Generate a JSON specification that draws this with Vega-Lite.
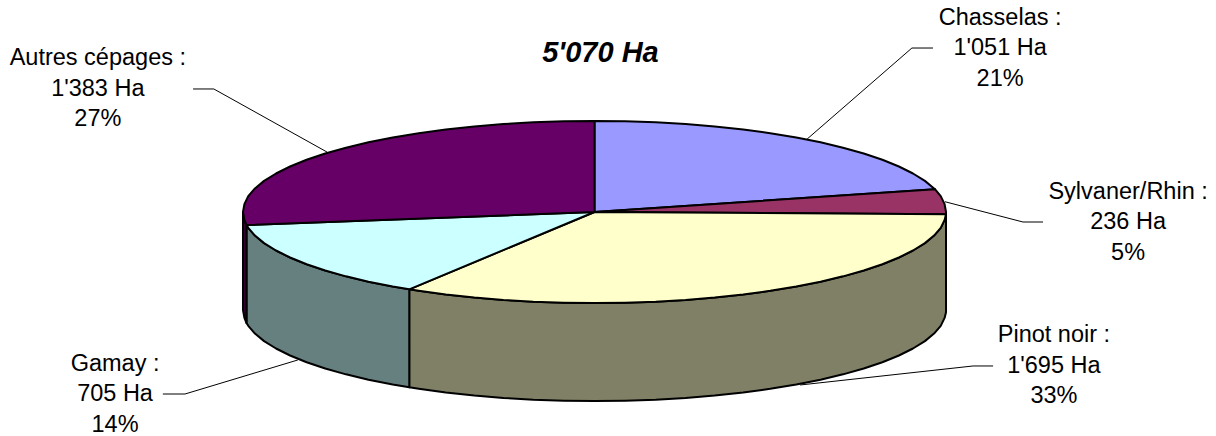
{
"$schema":"https://vega.github.io/schema/vega-lite/v6.json",
"width":1216,"height":436,"padding":0,
"autosize":{"type":"none"},
"background":"white",
"config":{"view":{"stroke":null}},
"datasets":{
"faces":[
{"f":"Pinot side","x":1,"y":-0.024},{"f":"Pinot side","x":0.996,"y":-0.087},{"f":"Pinot side","x":0.985,"y":-0.174},{"f":"Pinot side","x":0.966,"y":-0.259},{"f":"Pinot side","x":0.94,"y":-0.342},{"f":"Pinot side","x":0.906,"y":-0.423},{"f":"Pinot side","x":0.866,"y":-0.5},{"f":"Pinot side","x":0.819,"y":-0.574},{"f":"Pinot side","x":0.766,"y":-0.643},{"f":"Pinot side","x":0.707,"y":-0.707},{"f":"Pinot side","x":0.643,"y":-0.766},{"f":"Pinot side","x":0.574,"y":-0.819},{"f":"Pinot side","x":0.5,"y":-0.866},{"f":"Pinot side","x":0.423,"y":-0.906},{"f":"Pinot side","x":0.342,"y":-0.94},{"f":"Pinot side","x":0.259,"y":-0.966},{"f":"Pinot side","x":0.174,"y":-0.985},{"f":"Pinot side","x":0.087,"y":-0.996},{"f":"Pinot side","x":0,"y":-1},{"f":"Pinot side","x":-0.087,"y":-0.996},{"f":"Pinot side","x":-0.174,"y":-0.985},{"f":"Pinot side","x":-0.259,"y":-0.966},{"f":"Pinot side","x":-0.342,"y":-0.94},{"f":"Pinot side","x":-0.423,"y":-0.906},{"f":"Pinot side","x":-0.5,"y":-0.866},{"f":"Pinot side","x":-0.527,"y":-0.85},
{"f":"Pinot side","x":-0.527,"y":-1.927},{"f":"Pinot side","x":-0.5,"y":-1.943},{"f":"Pinot side","x":-0.423,"y":-1.983},{"f":"Pinot side","x":-0.342,"y":-2.017},{"f":"Pinot side","x":-0.259,"y":-2.043},{"f":"Pinot side","x":-0.174,"y":-2.062},{"f":"Pinot side","x":-0.087,"y":-2.073},{"f":"Pinot side","x":0,"y":-2.077},{"f":"Pinot side","x":0.087,"y":-2.073},{"f":"Pinot side","x":0.174,"y":-2.062},{"f":"Pinot side","x":0.259,"y":-2.043},{"f":"Pinot side","x":0.342,"y":-2.017},{"f":"Pinot side","x":0.423,"y":-1.983},{"f":"Pinot side","x":0.5,"y":-1.943},{"f":"Pinot side","x":0.574,"y":-1.896},{"f":"Pinot side","x":0.643,"y":-1.843},{"f":"Pinot side","x":0.707,"y":-1.784},{"f":"Pinot side","x":0.766,"y":-1.72},{"f":"Pinot side","x":0.819,"y":-1.651},{"f":"Pinot side","x":0.866,"y":-1.577},{"f":"Pinot side","x":0.906,"y":-1.5},{"f":"Pinot side","x":0.94,"y":-1.419},{"f":"Pinot side","x":0.966,"y":-1.336},{"f":"Pinot side","x":0.985,"y":-1.251},{"f":"Pinot side","x":0.996,"y":-1.164},{"f":"Pinot side","x":1,"y":-1.101},{"f":"Pinot side","x":1,"y":-0.024},

{"f":"Gamay side","x":-0.527,"y":-0.85},{"f":"Gamay side","x":-0.574,"y":-0.819},{"f":"Gamay side","x":-0.643,"y":-0.766},{"f":"Gamay side","x":-0.707,"y":-0.707},{"f":"Gamay side","x":-0.766,"y":-0.643},{"f":"Gamay side","x":-0.819,"y":-0.574},{"f":"Gamay side","x":-0.866,"y":-0.5},{"f":"Gamay side","x":-0.906,"y":-0.423},{"f":"Gamay side","x":-0.94,"y":-0.342},{"f":"Gamay side","x":-0.966,"y":-0.259},{"f":"Gamay side","x":-0.985,"y":-0.174},{"f":"Gamay side","x":-0.99,"y":-0.143},
{"f":"Gamay side","x":-0.99,"y":-1.22},{"f":"Gamay side","x":-0.985,"y":-1.251},{"f":"Gamay side","x":-0.966,"y":-1.336},{"f":"Gamay side","x":-0.94,"y":-1.419},{"f":"Gamay side","x":-0.906,"y":-1.5},{"f":"Gamay side","x":-0.866,"y":-1.577},{"f":"Gamay side","x":-0.819,"y":-1.651},{"f":"Gamay side","x":-0.766,"y":-1.72},{"f":"Gamay side","x":-0.707,"y":-1.784},{"f":"Gamay side","x":-0.643,"y":-1.843},{"f":"Gamay side","x":-0.574,"y":-1.896},{"f":"Gamay side","x":-0.527,"y":-1.927},{"f":"Gamay side","x":-0.527,"y":-0.85},

{"f":"Autres side","x":-0.99,"y":-0.143},{"f":"Autres side","x":-0.996,"y":-0.087},{"f":"Autres side","x":-1,"y":0},{"f":"Autres side","x":-1,"y":-1.077},{"f":"Autres side","x":-0.996,"y":-1.164},{"f":"Autres side","x":-0.99,"y":-1.22},{"f":"Autres side","x":-0.99,"y":-0.143},

{"f":"Chasselas","x":0,"y":0},{"f":"Chasselas","x":0,"y":1},{"f":"Chasselas","x":0.087,"y":0.996},{"f":"Chasselas","x":0.174,"y":0.985},{"f":"Chasselas","x":0.259,"y":0.966},{"f":"Chasselas","x":0.342,"y":0.94},{"f":"Chasselas","x":0.423,"y":0.906},{"f":"Chasselas","x":0.5,"y":0.866},{"f":"Chasselas","x":0.574,"y":0.819},{"f":"Chasselas","x":0.643,"y":0.766},{"f":"Chasselas","x":0.707,"y":0.707},{"f":"Chasselas","x":0.766,"y":0.643},{"f":"Chasselas","x":0.819,"y":0.574},{"f":"Chasselas","x":0.866,"y":0.5},{"f":"Chasselas","x":0.906,"y":0.423},{"f":"Chasselas","x":0.94,"y":0.342},{"f":"Chasselas","x":0.966,"y":0.259},{"f":"Chasselas","x":0.969,"y":0.249},{"f":"Chasselas","x":0,"y":0},

{"f":"Sylvaner/Rhin","x":0,"y":0},{"f":"Sylvaner/Rhin","x":0.969,"y":0.249},{"f":"Sylvaner/Rhin","x":0.985,"y":0.174},{"f":"Sylvaner/Rhin","x":0.996,"y":0.087},{"f":"Sylvaner/Rhin","x":1,"y":0},{"f":"Sylvaner/Rhin","x":1,"y":-0.024},{"f":"Sylvaner/Rhin","x":0,"y":0},

{"f":"Pinot noir","x":0,"y":0},{"f":"Pinot noir","x":1,"y":-0.024},{"f":"Pinot noir","x":0.996,"y":-0.087},{"f":"Pinot noir","x":0.985,"y":-0.174},{"f":"Pinot noir","x":0.966,"y":-0.259},{"f":"Pinot noir","x":0.94,"y":-0.342},{"f":"Pinot noir","x":0.906,"y":-0.423},{"f":"Pinot noir","x":0.866,"y":-0.5},{"f":"Pinot noir","x":0.819,"y":-0.574},{"f":"Pinot noir","x":0.766,"y":-0.643},{"f":"Pinot noir","x":0.707,"y":-0.707},{"f":"Pinot noir","x":0.643,"y":-0.766},{"f":"Pinot noir","x":0.574,"y":-0.819},{"f":"Pinot noir","x":0.5,"y":-0.866},{"f":"Pinot noir","x":0.423,"y":-0.906},{"f":"Pinot noir","x":0.342,"y":-0.94},{"f":"Pinot noir","x":0.259,"y":-0.966},{"f":"Pinot noir","x":0.174,"y":-0.985},{"f":"Pinot noir","x":0.087,"y":-0.996},{"f":"Pinot noir","x":0,"y":-1},{"f":"Pinot noir","x":-0.087,"y":-0.996},{"f":"Pinot noir","x":-0.174,"y":-0.985},{"f":"Pinot noir","x":-0.259,"y":-0.966},{"f":"Pinot noir","x":-0.342,"y":-0.94},{"f":"Pinot noir","x":-0.423,"y":-0.906},{"f":"Pinot noir","x":-0.5,"y":-0.866},{"f":"Pinot noir","x":-0.527,"y":-0.85},{"f":"Pinot noir","x":0,"y":0},

{"f":"Gamay","x":0,"y":0},{"f":"Gamay","x":-0.527,"y":-0.85},{"f":"Gamay","x":-0.574,"y":-0.819},{"f":"Gamay","x":-0.643,"y":-0.766},{"f":"Gamay","x":-0.707,"y":-0.707},{"f":"Gamay","x":-0.766,"y":-0.643},{"f":"Gamay","x":-0.819,"y":-0.574},{"f":"Gamay","x":-0.866,"y":-0.5},{"f":"Gamay","x":-0.906,"y":-0.423},{"f":"Gamay","x":-0.94,"y":-0.342},{"f":"Gamay","x":-0.966,"y":-0.259},{"f":"Gamay","x":-0.985,"y":-0.174},{"f":"Gamay","x":-0.99,"y":-0.143},{"f":"Gamay","x":0,"y":0},

{"f":"Autres cépages","x":0,"y":0},{"f":"Autres cépages","x":-0.99,"y":-0.143},{"f":"Autres cépages","x":-0.996,"y":-0.087},{"f":"Autres cépages","x":-1,"y":0},{"f":"Autres cépages","x":-0.996,"y":0.087},{"f":"Autres cépages","x":-0.985,"y":0.174},{"f":"Autres cépages","x":-0.966,"y":0.259},{"f":"Autres cépages","x":-0.94,"y":0.342},{"f":"Autres cépages","x":-0.906,"y":0.423},{"f":"Autres cépages","x":-0.866,"y":0.5},{"f":"Autres cépages","x":-0.819,"y":0.574},{"f":"Autres cépages","x":-0.766,"y":0.643},{"f":"Autres cépages","x":-0.707,"y":0.707},{"f":"Autres cépages","x":-0.643,"y":0.766},{"f":"Autres cépages","x":-0.574,"y":0.819},{"f":"Autres cépages","x":-0.5,"y":0.866},{"f":"Autres cépages","x":-0.423,"y":0.906},{"f":"Autres cépages","x":-0.342,"y":0.94},{"f":"Autres cépages","x":-0.259,"y":0.966},{"f":"Autres cépages","x":-0.174,"y":0.985},{"f":"Autres cépages","x":-0.087,"y":0.996},{"f":"Autres cépages","x":0,"y":1},{"f":"Autres cépages","x":0,"y":0}
],
"leaders":[
{"c":"Chasselas","x":0.605,"y":0.802},{"c":"Chasselas","x":0.903,"y":1.802},{"c":"Chasselas","x":0.963,"y":1.802},
{"c":"Sylvaner/Rhin","x":0.997,"y":0.113},{"c":"Sylvaner/Rhin","x":1.219,"y":-0.11},{"c":"Sylvaner/Rhin","x":1.276,"y":-0.11},
{"c":"Pinot noir","x":0.585,"y":-1.901},{"c":"Pinot noir","x":1.077,"y":-1.692},{"c":"Pinot noir","x":1.134,"y":-1.692},
{"c":"Gamay","x":-0.844,"y":-1.626},{"c":"Gamay","x":-1.165,"y":-2},{"c":"Gamay","x":-1.228,"y":-2},
{"c":"Autres cépages","x":-0.761,"y":0.659},{"c":"Autres cépages","x":-1.083,"y":1.352},{"c":"Autres cépages","x":-1.142,"y":1.352}
],
"labels":[
{"label":"Chasselas :\n1'051 Ha\n21%","x":1.154,"y":2.137},
{"label":"Sylvaner/Rhin :\n236 Ha\n5%","x":1.518,"y":0.225},
{"label":"Pinot noir :\n1'695 Ha\n33%","x":1.307,"y":-1.357},
{"label":"Gamay :\n705 Ha\n14%","x":-1.364,"y":-1.665},
{"label":"Autres cépages :\n1'383 Ha\n27%","x":-1.413,"y":1.687}
],
"total":[{"label":"5'070 Ha","x":0.017,"y":1.747}]
},
"encoding":{
"x":{"field":"x","type":"quantitative","axis":null,"scale":{"domain":[-1.6913,1.7681],"zero":false,"nice":false}},
"y":{"field":"y","type":"quantitative","axis":null,"scale":{"domain":[-2.4615,2.3297],"zero":false,"nice":false}}
},
"layer":[
{"data":{"name":"leaders"},"mark":{"type":"line","stroke":"#000000","strokeWidth":1},"encoding":{"detail":{"field":"c"},"order":{"value":null}}},
{"data":{"name":"faces"},"mark":{"type":"line","stroke":"#000000","strokeWidth":2,"strokeJoin":"round","fill":"#ffffff"},
"encoding":{"detail":{"field":"f"},"order":{"value":null},
"fill":{"field":"f","type":"nominal","legend":null,"scale":{
"domain":["Pinot side","Gamay side","Autres side","Chasselas","Sylvaner/Rhin","Pinot noir","Gamay","Autres cépages"],
"range":["#808066","#668080","#330033","#9999FF","#993366","#FFFFCC","#CCFFFF","#660066"]}}}},
{"data":{"name":"labels"},"mark":{"type":"text","font":"Liberation Sans","fontSize":23.5,"lineBreak":"\n","lineHeight":30.5,"align":"center","baseline":"middle","color":"#000000"},"encoding":{"text":{"field":"label"}}},
{"data":{"name":"total"},"mark":{"type":"text","font":"Liberation Sans","fontSize":29,"fontWeight":"bold","fontStyle":"italic","align":"center","baseline":"middle","color":"#000000"},"encoding":{"text":{"field":"label"}}}
]
}
